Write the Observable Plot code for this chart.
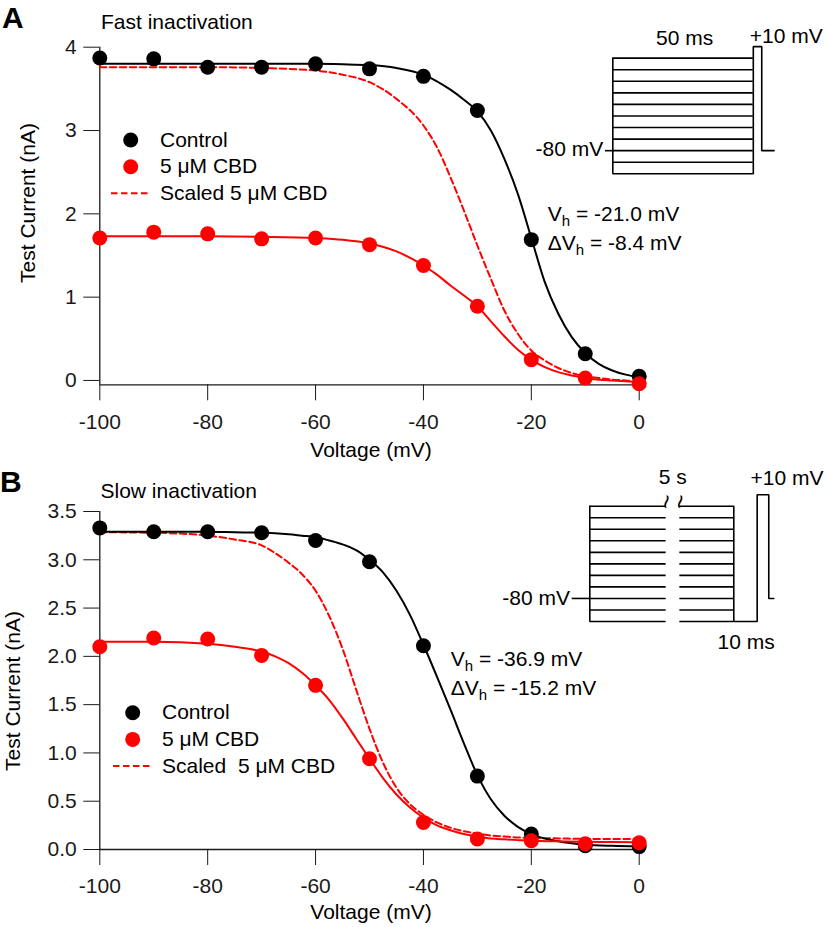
<!DOCTYPE html>
<html><head><meta charset="utf-8">
<script src="https://cdn.jsdelivr.net/npm/d3@7"></script>
<script src="https://cdn.jsdelivr.net/npm/@observablehq/plot@0.6"></script>
<style>
body{margin:0;background:#fff;}
#wrap{position:relative;width:828px;height:927px;overflow:hidden;background:#fff;}
#wrap > svg{position:absolute;overflow:visible;}
</style></head><body><div id="wrap"></div>
<script>
// ---------- data ----------
const voltages = [-100, -90, -80, -70, -60, -50, -40, -30, -20, -10, 0];
const xTicks = [-100, -80, -60, -40, -20, 0];

// Panel A: fast inactivation
const fastControl = [3.87, 3.86, 3.76, 3.76, 3.80, 3.74, 3.65, 3.24, 1.69, 0.32, 0.05];
const fastCBD     = [1.71, 1.78, 1.76, 1.70, 1.71, 1.63, 1.38, 0.89, 0.25, 0.03, -0.04];
const fastFitV    = [-100, -90, -80, -70, -60, -55, -50, -45, -40, -37.5, -35, -32.5, -30, -27.5, -25, -22.5, -20, -17.5, -15, -12.5, -10, -7.5, -5, -2.5, 0];
const fastControlFit = [3.80, 3.80, 3.80, 3.80, 3.80, 3.795, 3.785, 3.75, 3.67, 3.59, 3.49, 3.37, 3.23, 3.00, 2.66, 2.24, 1.71, 1.18, 0.80, 0.52, 0.33, 0.20, 0.12, 0.07, 0.04];
const fastCBDFit     = [1.73, 1.73, 1.73, 1.725, 1.71, 1.69, 1.645, 1.55, 1.38, 1.27, 1.14, 1.02, 0.89, 0.71, 0.53, 0.37, 0.25, 0.16, 0.10, 0.06, 0.03, 0.01, 0.0, -0.01, -0.02];
const fastScaledFit  = [3.76, 3.76, 3.76, 3.75, 3.72, 3.67, 3.58, 3.38, 3.06, 2.80, 2.44, 2.04, 1.62, 1.22, 0.84, 0.56, 0.36, 0.24, 0.15, 0.09, 0.05, 0.03, 0.01, 0.0, -0.02];
const fastYTicks = [0, 1, 2, 3, 4];

// Panel B: slow inactivation
const slowControl = [3.33, 3.29, 3.29, 3.28, 3.20, 2.98, 2.11, 0.76, 0.16, 0.04, 0.03];
const slowCBD     = [2.10, 2.19, 2.18, 2.01, 1.70, 0.94, 0.28, 0.11, 0.09, 0.06, 0.07];
const slowFitV    = [-100, -90, -80, -75, -70, -67.5, -65, -62.5, -60, -57.5, -55, -52.5, -50, -47.5, -45, -42.5, -40, -37.5, -35, -32.5, -30, -27.5, -25, -22.5, -20, -15, -10, -5, 0];
const slowControlFit = [3.29, 3.29, 3.29, 3.285, 3.28, 3.275, 3.265, 3.25, 3.235, 3.20, 3.16, 3.10, 3.00, 2.87, 2.68, 2.43, 2.12, 1.79, 1.45, 1.10, 0.77, 0.52, 0.35, 0.235, 0.16, 0.085, 0.05, 0.038, 0.033];
const slowCBDFit     = [2.15, 2.15, 2.13, 2.10, 2.05, 2.00, 1.93, 1.83, 1.70, 1.55, 1.36, 1.15, 0.94, 0.74, 0.57, 0.435, 0.33, 0.25, 0.20, 0.16, 0.135, 0.115, 0.105, 0.097, 0.09, 0.085, 0.08, 0.078, 0.075];
const slowScaledFit  = [3.285, 3.28, 3.25, 3.21, 3.15, 3.07, 2.97, 2.85, 2.68, 2.42, 2.08, 1.66, 1.25, 0.90, 0.64, 0.47, 0.36, 0.28, 0.225, 0.19, 0.165, 0.145, 0.135, 0.125, 0.12, 0.115, 0.11, 0.11, 0.11];
const slowYTicks = [0, 0.5, 1.0, 1.5, 2.0, 2.5, 3.0, 3.5];

// Voltage protocols (insets)
const prepulseLevels = [0, -10, -20, -30, -40, -50, -60, -70, -80, -90, -100];
const holdLevel = -80, testLevel = 10;
// fast protocol times (ms, schematic)
const fastPreStart = 2.6, fastPreEnd = 52.6, fastTestEnd = 55.6, fastTailEnd = 60;
// slow protocol times (schematic units, axis broken)
const slowPreStart = 1.504, slowBreakStart = 8.03, slowBreakEnd = 9.20, slowPreEnd = 13.81,
      slowRecEnd = 15.81, slowTestEnd = 16.80, slowTailEnd = 17.23;
const slowRecLevel = -100;

// ---------- style ----------
const FONT = "'Liberation Sans', Arial, Helvetica, sans-serif";
const RED = "#ff0000";
const AX = "#1a1a1a";
const wrap = document.getElementById("wrap");

function place(el, left, top) {
  el.style.position = "absolute";
  el.style.left = left + "px";
  el.style.top = top + "px";
  wrap.appendChild(el);
}

function panel({top, height, marginTop, marginBottom, yDomain, yTicks, yFormat,
                ctrl, cbd, fitV, ctrlFit, cbdFit, scaledFit}) {
  const pts = voltages.map((v, i) => ({v, c: ctrl[i], d: cbd[i]}));
  const fit = fitV.map((v, i) => ({v, c: ctrlFit[i], d: cbdFit[i], s: scaledFit[i]}));
  const p = Plot.plot({
    width: 828, height,
    marginLeft: 99.3, marginRight: 189.3, marginTop, marginBottom,
    style: {fontFamily: FONT, fontSize: "21px", color: AX, background: "transparent", overflow: "visible"},
    x: {domain: [-100, 0], ticks: xTicks, tickSize: 16, tickPadding: 13, tickFormat: d => String(d), label: null},
    y: {domain: yDomain, ticks: yTicks, tickSize: 16, tickPadding: 7, tickFormat: yFormat, label: null},
    marks: [
      Plot.ruleX([-100], {y1: yDomain[0], y2: yDomain[1], stroke: AX, strokeWidth: 1.3}),
      Plot.ruleY([yDomain[0]], {x1: -100, x2: 0, stroke: AX, strokeWidth: 1.3}),
      Plot.line(fit, {x: "v", y: "s", stroke: RED, strokeWidth: 2, strokeDasharray: "6.5,3.5", curve: "monotone-x"}),
      Plot.line(fit, {x: "v", y: "c", stroke: "#000", strokeWidth: 2, curve: "monotone-x"}),
      Plot.line(fit, {x: "v", y: "d", stroke: RED, strokeWidth: 2, curve: "monotone-x"}),
      Plot.dot(pts, {x: "v", y: "c", r: 7.5, fill: "#000", stroke: null}),
      Plot.dot(pts, {x: "v", y: "d", r: 7.5, fill: RED, stroke: null})
    ]
  });
  place(p, 0, top);
}

panel({top: 0, height: 455, marginTop: 46.7, marginBottom: 70.7, yDomain: [-0.052, 4],
  yTicks: fastYTicks, yFormat: d => String(d),
  ctrl: fastControl, cbd: fastCBD, fitV: fastFitV,
  ctrlFit: fastControlFit, cbdFit: fastCBDFit, scaledFit: fastScaledFit});

panel({top: 455, height: 472, marginTop: 56, marginBottom: 78, yDomain: [0, 3.5],
  yTicks: slowYTicks, yFormat: d => d.toFixed(1),
  ctrl: slowControl, cbd: slowCBD, fitV: slowFitV,
  ctrlFit: slowControlFit, cbdFit: slowCBDFit, scaledFit: slowScaledFit});

// ---------- insets ----------
const LW = 1.6;
{
  const wave = [
    {t: fastPreEnd, v: prepulseLevels[prepulseLevels.length - 1]},
    {t: fastPreEnd, v: testLevel}, {t: fastTestEnd, v: testLevel},
    {t: fastTestEnd, v: holdLevel}, {t: fastTailEnd, v: holdLevel}];
  const p = Plot.plot({
    width: 268, height: 200, margin: 0,
    style: {background: "transparent", overflow: "visible"},
    x: {domain: [0, fastTailEnd], range: [45, 213.6], axis: null},
    y: {domain: [-100, 10], range: [173.3, 46.1], axis: null},
    marks: [
      Plot.ruleY(prepulseLevels, {x1: fastPreStart, x2: fastPreEnd, stroke: "#000", strokeWidth: LW}),
      Plot.ruleX([fastPreStart], {y1: -100, y2: 0, stroke: "#000", strokeWidth: LW}),
      Plot.ruleY([holdLevel], {x1: 0, x2: fastPreStart, stroke: "#000", strokeWidth: LW}),
      Plot.line(wave, {x: "t", y: "v", stroke: "#000", strokeWidth: LW, strokeLinejoin: "miter"})
    ]
  });
  place(p, 560, 0);
}
{
  const wave = [
    {t: slowPreEnd, v: 0}, {t: slowPreEnd, v: slowRecLevel},
    {t: slowRecEnd, v: slowRecLevel}, {t: slowRecEnd, v: testLevel},
    {t: slowTestEnd, v: testLevel}, {t: slowTestEnd, v: holdLevel},
    {t: slowTailEnd, v: holdLevel}];
  const p = Plot.plot({
    width: 268, height: 250, margin: 0,
    style: {background: "transparent", overflow: "visible", fontFamily: FONT},
    x: {domain: [0, slowTailEnd], range: [11.7, 213.3], axis: null},
    y: {domain: [-100, 10], range: [166, 39.2], axis: null},
    marks: [
      Plot.ruleY(prepulseLevels, {x1: slowPreStart, x2: slowBreakStart, stroke: "#000", strokeWidth: LW}),
      Plot.ruleY(prepulseLevels, {x1: slowBreakEnd, x2: slowPreEnd, stroke: "#000", strokeWidth: LW}),
      Plot.ruleX([slowPreStart], {y1: -100, y2: 0, stroke: "#000", strokeWidth: LW}),
      Plot.ruleY([holdLevel], {x1: 0, x2: slowPreStart, stroke: "#000", strokeWidth: LW}),
      Plot.line(wave, {x: "t", y: "v", stroke: "#000", strokeWidth: LW, strokeLinejoin: "miter"}),
      Plot.text([slowBreakStart, slowBreakEnd], {x: d => d, y: 4, text: () => "~", rotate: 100,
        fontSize: 25, fill: "#000"})
    ]
  });
  place(p, 560, 455);
}

// ---------- overlay text, legends, annotations ----------
const svg = d3.create("svg").attr("width", 828).attr("height", 927)
  .style("font-family", FONT).style("font-size", "21px").style("pointer-events", "none")
  .style("left", "0px").style("top", "0px");

function txt(x, y, s, opts = {}) {
  const t = svg.append("text").attr("x", x).attr("y", y).attr("fill", "#000")
    .attr("text-anchor", opts.anchor || "start").style("white-space", "pre").text(s);
  if (opts.weight) t.attr("font-weight", opts.weight);
  if (opts.size) t.attr("font-size", opts.size);
  if (opts.rotate) t.attr("transform", `rotate(${opts.rotate},${x},${y})`);
  return t;
}
function sub(x, y, pre, rest) {
  const t = svg.append("text").attr("x", x).attr("y", y).attr("fill", "#000").style("white-space", "pre");
  t.append("tspan").text(pre);
  t.append("tspan").attr("font-size", 15).attr("dy", 5).text("h");
  t.append("tspan").attr("dy", -5).text(rest);
}

// panel letters & titles
txt(2, 28, "A", {weight: "bold", size: 30});
txt(0, 491.7, "B", {weight: "bold", size: 30});
txt(101, 29.3, "Fast inactivation");
txt(100.5, 498.3, "Slow inactivation");

// axis labels
txt(371, 457, "Voltage (mV)", {anchor: "middle"});
txt(371, 919, "Voltage (mV)", {anchor: "middle"});
txt(34.5, 203, "Test Current (nA)", {anchor: "middle", rotate: -90});
txt(19.5, 691, "Test Current (nA)", {anchor: "middle", rotate: -90});

// legends
function legend(dx, y0, scaledLabel) {
  svg.append("circle").attr("cx", dx + 130.7).attr("cy", y0).attr("r", 7.5).attr("fill", "#000");
  svg.append("circle").attr("cx", dx + 130.7).attr("cy", y0 + 26.7).attr("r", 7.5).attr("fill", RED);
  svg.append("line").attr("x1", dx + 111).attr("x2", dx + 150).attr("y1", y0 + 53.3).attr("y2", y0 + 53.3)
    .attr("stroke", RED).attr("stroke-width", 2).attr("stroke-dasharray", "6.5,3.5");
  txt(dx + 160, y0 + 6.7, "Control");
  txt(dx + 160, y0 + 33.3, "5 \u03bcM CBD");
  txt(dx + 160, y0 + 60, scaledLabel);
}
legend(0, 140, "Scaled 5 \u03bcM CBD");
legend(2, 712.7, "Scaled  5 \u03bcM CBD");

// Vh annotations
sub(547.7, 221, "V", " = -21.0 mV");
sub(547.7, 250, "\u0394V", " = -8.4 mV");
sub(450.7, 666, "V", " = -36.9 mV");
sub(450.7, 695, "\u0394V", " = -15.2 mV");

// protocol labels
txt(684.7, 45, "50 ms", {anchor: "middle"});
txt(749.7, 42.7, "+10 mV");
txt(603.3, 155.7, "-80 mV", {anchor: "end"});
txt(672.7, 484, "5 s", {anchor: "middle"});
txt(750.5, 485, "+10 mV");
txt(570, 605, "-80 mV", {anchor: "end"});
txt(717.5, 649, "10 ms");

const o = svg.node();
o.style.position = "absolute";
wrap.appendChild(o);
</script></body></html>
